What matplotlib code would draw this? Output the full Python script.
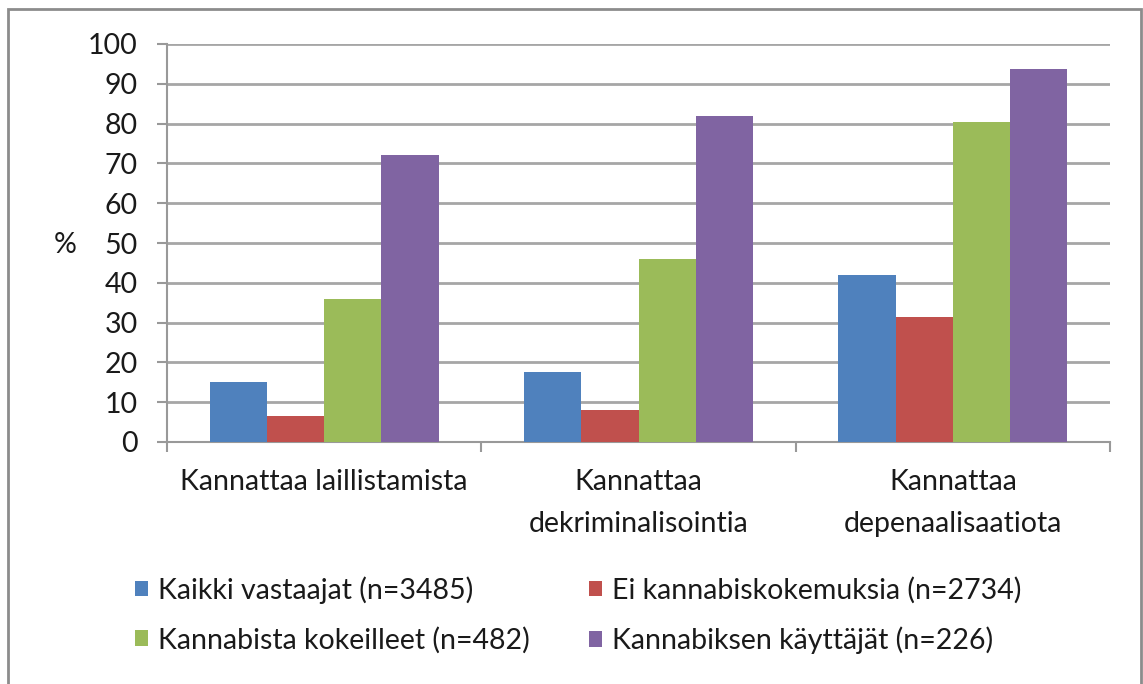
import matplotlib
matplotlib.use("Agg")
import matplotlib.pyplot as plt
import numpy as np
from matplotlib.patches import Rectangle

categories = ["Kannattaa laillistamista", "Kannattaa\ndekriminalisointia", "Kannattaa\ndepenaalisaatiota"]
series_names = ["Kaikki vastaajat (n=3485)", "Ei kannabiskokemuksia (n=2734)",
                "Kannabista kokeilleet (n=482)", "Kannabiksen käyttäjät (n=226)"]
kaikki = [15, 17.5, 42]
ei_kok = [6.5, 8, 31.3]
kokeilleet = [36, 46, 80.5]
kayttajat = [72, 82, 93.7]
yticks = list(range(0, 101, 10))

colors = ["#4F81BD", "#C0504D", "#9BBB59", "#8064A2"]
values = [kaikki, ei_kok, kokeilleet, kayttajat]

plt.rcParams['font.family'] = ['Lato', 'DejaVu Sans']
TXT = "#1a1a1a"
FS = 20.5
W, H = 1143, 684
fig = plt.figure(figsize=(W/100, H/100), dpi=100)
fig.patches.append(Rectangle((8/W, -0.05), (1141-8)/W, 1.05 - 9/H, transform=fig.transFigure,
                             fill=False, edgecolor="#8c8c8c", linewidth=2))

ax = fig.add_axes([167/W, 1-442/H, (1110-167)/W, (442-44)/H])
x = np.arange(len(categories))
bw = 0.182
for i, (vals, c, name) in enumerate(zip(values, colors, series_names)):
    ax.bar(x + (i - 1.5)*bw, vals, width=bw, color=c, label=name, zorder=3)

ax.set_xlim(-0.5, 2.5)
ax.set_ylim(0, 100)
ax.set_yticks(yticks)
ax.set_yticklabels([str(t) for t in yticks], fontsize=FS, color=TXT)
ax.yaxis.grid(True, color="#a6a6a6", linewidth=2, zorder=0)
ax.set_axisbelow(True)
ax.tick_params(axis='y', direction='out', length=7, width=1.5, color="#999999", pad=14)
ax.set_xticks(x)
ax.set_xticklabels(categories, fontsize=FS, linespacing=1.75, va='top', color=TXT)
ax.tick_params(axis='x', which='major', length=0, pad=19.5)
ax.set_xticks([-0.5, 0.5, 1.5, 2.5], minor=True)
ax.tick_params(axis='x', which='minor', direction='out', length=7, width=1.5, color="#999999")
for s in ['top', 'right']:
    ax.spines[s].set_visible(False)
for s in ['left', 'bottom']:
    ax.spines[s].set_color("#999999")
    ax.spines[s].set_linewidth(1.5)

fig.text(65/W, 1-245/H, "%", fontsize=FS, ha='center', va='center', color=TXT)

handles, labels = ax.get_legend_handles_labels()
order = [0, 2, 1, 3]
leg = fig.legend([handles[i] for i in order], [labels[i] for i in order], ncol=2,
                 loc='upper left', bbox_to_anchor=(135/W, 1-576/H), frameon=False,
                 borderpad=0, borderaxespad=0,
                 fontsize=FS, handlelength=0.45, handleheight=0.45, handletextpad=0.35,
                 columnspacing=2.1, labelspacing=0.8)
for t in leg.get_texts():
    t.set_color(TXT)

fig.savefig("out.png", dpi=100)
